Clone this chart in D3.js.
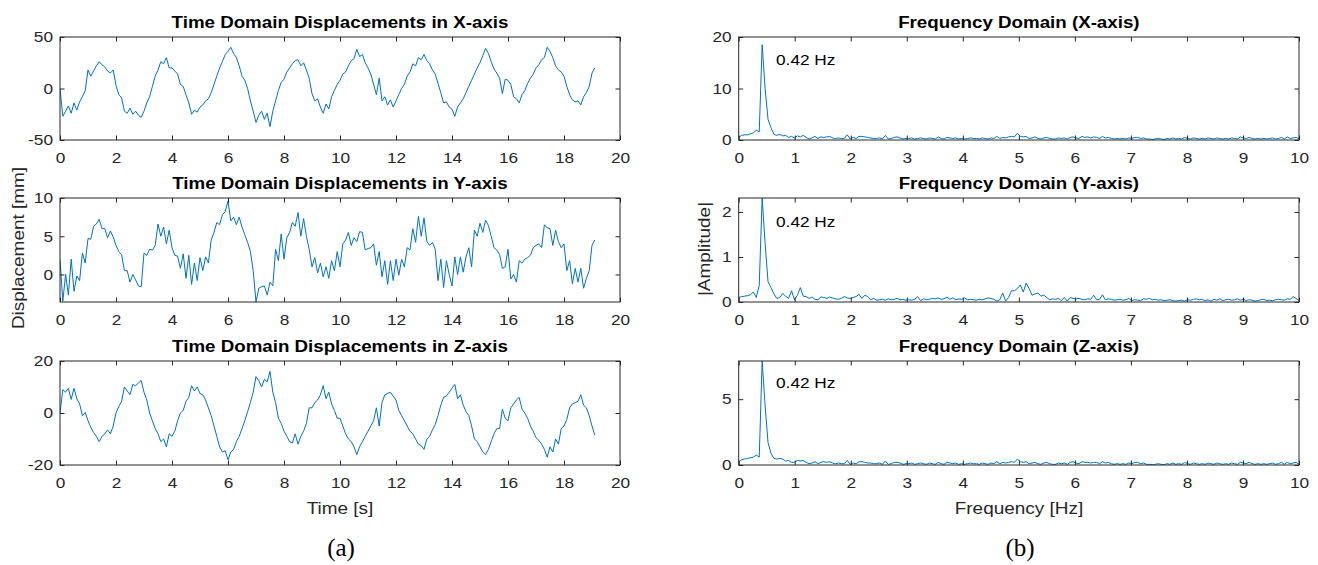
<!DOCTYPE html>
<html>
<head>
<meta charset="utf-8">
<script src="https://cdn.jsdelivr.net/npm/d3@7"></script>
<style>
  body { margin: 0; background: #fff; }
  svg { display: block; }
  text { font-family: "Liberation Sans", Arial, Helvetica, sans-serif; fill: #262626; }
</style>
</head>
<body>
<div id="chart"></div>
<script>
// sampling grids (seconds / hertz)
const TIME_STEP = 0.1
const FREQ_STEP = 10 / 191

// displacement in X [mm], one value per 0.1 s
const dispX = [
  0, -27, -22, -17, -24, -14, -21, -13, -8, -2,
  18, 12, 17, 22, 26, 23, 21, 17, 15, 18,
  3, -6, -9, -22, -24, -19, -25, -22, -26, -28,
  -22, -14, -8, 2, 12, 18, 26, 24, 30, 20,
  20, 17, 14, 4, 2, -6, -14, -25, -21, -23,
  -18, -16, -12, -10, -4, 4, 12, 20, 26, 33,
  36, 40, 34, 30, 22, 12, 8, 0, -12, -22,
  -33, -26, -22, -30, -24, -37, -22, -12, -2, 6,
  9, 16, 20, 24, 27, 28, 22, 25, 18, 10,
  -5, -12, -10, -18, -24, -15, -20, -8, -2, 4,
  8, 14, 16, 22, 27, 29, 38, 31, 33, 25,
  20, 14, 4, -6, 10, -12, -8, -16, -11, -18,
  -12, -6, 0, 4, 12, 16, 24, 22, 30, 28,
  33, 27, 24, 18, 14, 5, -4, -14, -13, -18,
  -20, -27, -18, -14, -10, -4, 2, 8, 14, 20,
  25, 32, 39, 34, 26, 19, 15, 10, -5, 9,
  8, 4, -8, -10, -14, -6, -2, 5, 10, 14,
  20, 23, 28, 30, 40, 36, 30, 22, 18, 16,
  12, 2, -6, -11, -13, -12, -16, -8, -4, 2,
  15, 20
]

// displacement in Y [mm]
const dispY = [
  2.0, -3.5, 0.0, -2.7, 2.0, -2.2, -0.2, -0.8, 2.8, 1.5,
  4.7, 4.6, 6.3, 6.6, 7.2, 6.0, 6.0, 4.8, 5.7, 4.9,
  3.8, 3.0, 2.6, 0.5, 0.5, -1.0, 0.0, -0.7, -1.5, -1.6,
  2.8, 2.5, 3.3, 3.2, 3.8, 6.6, 5.0, 6.2, 4.0, 5.8,
  3.5, 2.5, 2.4, 0.8, 2.7, -0.5, 2.5, -1.3, 1.5, -0.8,
  2.2, 0.5, 2.3, 1.5, 4.5, 5.5, 6.8, 6.5, 7.8, 8.2,
  9.6, 7.0, 7.5, 6.5, 7.5, 6.2, 5.2, 4.2, 3.0, 0.5,
  -3.6, -1.8, -1.6, -1.5, -2.7, -1.0, -1.5, 3.3, 1.8, 5.3,
  2.0, 4.8, 5.5, 6.8, 6.3, 8.1, 5.0, 7.3, 5.0, 3.3,
  1.0, 2.2, 0.2, 1.5, -0.3, 1.0, -0.5, 1.8, 0.5, 3.0,
  1.0, 4.0, 4.5, 5.5, 3.8, 4.8, 4.3, 5.6, 5.5, 3.2,
  3.4, 3.5, 4.0, 1.2, 3.0, -0.3, 1.8, -1.3, 1.8, -0.8,
  2.0, -0.1, 2.0, 1.0, 3.5, 3.2, 6.0, 4.2, 7.6, 5.0,
  7.4, 4.3, 3.8, 4.2, 3.3, -0.8, 2.0, -1.7, 1.8, 0.0,
  -1.5, 2.3, 0.0, 2.3, 0.3, 2.3, 3.5, 1.0, 5.8, 5.0,
  6.7, 5.5, 7.1, 6.4, 5.0, 3.5, 3.2, 2.6, 0.8, 1.0,
  3.3, -0.6, 0.0, -1.0, 1.8, 1.5, 2.0, 2.2, 2.5, 3.5,
  3.8, 4.0, 3.5, 6.5, 6.1, 6.0, 3.8, 5.8, 4.3, 3.5,
  4.0, 0.5, 1.8, -1.2, 0.8, -1.0, 0.8, -1.8, -0.5, 0.5,
  3.8, 4.5
]

// displacement in Z [mm]
const dispZ = [
  0, 9, 8, 9.5, 5.2, 9.5, 5.5, 3.5, -1, 0.2,
  -3, -5.5, -7.5, -9, -11, -9, -8, -6.5, -8, -5,
  0, 2.5, 4.5, 10, 8.5, 7, 11, 10.5, 11.5, 12.5,
  8, 5, 0, -3, -6, -8, -11, -10, -13, -8,
  -9, -7, -3, 0, 1, 4.5, 6, 10.5, 8.5, 10,
  7.5, 7, 5, 2, -1, -5, -9, -13, -15, -14.5,
  -18, -15, -14, -11, -9, -6, -3, 0.5, 4, 8,
  14, 12.5, 10, 13, 12, 16, 8, 4, -2, -4,
  -7, -9, -11, -11.5, -8, -12, -9, -7, -4, 2,
  2, 4, 5, 7, 10.5, 5.5, 8, 3.5, 1, -2,
  -2, -5, -8, -10, -11, -13, -16, -13, -11, -9,
  -7, -5, -3, 2, -5, 4, 7, 7.5, 8, 6.5,
  5, 1, -1, -3, -5, -7, -8, -10, -12, -12.5,
  -14, -10, -9, -6.5, -4.5, -1, 3, 6, 6.5, 8,
  9.5, 11, 5.5, 7, 3, 0.5, -1, -5, -10, -11,
  -13, -15, -16, -14, -11, -8, -6, -6, 1.5, -2,
  -3, 2, 3.5, 5, 6, 1.5, 0, -2, -5, -7,
  -9.5, -10.5, -12, -14, -17, -13, -15, -10, -12, -6,
  -5, -2.5, 2, 3.5, 4, 4.5, 7, 3, 2, -1,
  -5, -8.5
]

// |amplitude| spectra, one value per frequency bin
const ampX = [
  0.5, 0.9, 1.0, 1.0, 1.2, 1.4, 1.9, 1.6, 18.5, 10.0,
  4.0, 2.4, 1.1, 0.9, 1.1, 0.8, 0.9, 0.5, 0.7, 0.4,
  0.8, 0.6, 0.9, 0.5, 0.2, 0.4, 0.7, 0.3, 0.6, 0.5,
  0.6, 0.7, 0.4, 0.3, 0.4, 0.3, 0.3, 1.0, 0.2, 0.5,
  0.3, 0.7, 0.7, 0.6, 0.5, 0.4, 0.3, 0.3, 0.4, 0.2,
  0.9, 0.2, 0.3, 0.5, 0.6, 0.4, 0.2, 0.3, 0.3, 0.4,
  0.2, 0.3, 0.4, 0.3, 0.2, 0.4, 0.3, 0.2, 0.6, 0.3,
  0.2, 0.5, 0.4, 0.3, 0.4, 0.2, 0.3, 0.2, 0.3, 0.4,
  0.3, 0.3, 0.2, 0.4, 0.3, 0.2, 0.4, 0.3, 0.7, 0.3,
  0.5, 0.4, 0.6, 0.7, 0.6, 1.3, 0.7, 0.6, 0.7, 0.3,
  0.4, 0.6, 0.3, 0.2, 0.4, 0.5, 0.3, 0.2, 0.2, 0.4,
  0.3, 0.4, 0.2, 0.5, 0.6, 0.4, 0.3, 0.7, 0.5, 0.6,
  0.4, 0.6, 0.5, 0.3, 0.7, 0.4, 0.5, 0.3, 0.2, 0.3,
  0.2, 0.3, 0.2, 0.4, 0.3, 0.5, 0.5, 0.3, 0.4, 0.2,
  0.2, 0.1, 0.2, 0.3, 0.2, 0.1, 0.3, 0.2, 0.4, 0.2,
  0.3, 0.2, 0.5, 0.3, 0.2, 0.4, 0.3, 0.2, 0.3, 0.2,
  0.4, 0.3, 0.2, 0.4, 0.3, 0.2, 0.3, 0.2, 0.4, 0.3,
  0.2, 0.6, 0.4, 0.3, 0.5, 0.3, 0.2, 0.3, 0.2, 0.3,
  0.2, 0.3, 0.4, 0.2, 0.3, 0.5, 0.2, 0.6, 0.3, 0.4,
  0.5, 0.2
]

const ampY = [
  0.10, 0.12, 0.13, 0.14, 0.16, 0.22, 0.10, 0.37, 2.31, 1.30,
  0.45, 0.32, 0.18, 0.08, 0.10, 0.19, 0.13, 0.08, 0.25, 0.05,
  0.15, 0.32, 0.13, 0.12, 0.08, 0.11, 0.06, 0.05, 0.11, 0.10,
  0.08, 0.11, 0.09, 0.07, 0.06, 0.08, 0.12, 0.09, 0.08, 0.10,
  0.12, 0.17, 0.08, 0.15, 0.12, 0.05, 0.08, 0.04, 0.05, 0.06,
  0.04, 0.07, 0.05, 0.06, 0.08, 0.05, 0.06, 0.04, 0.05, 0.04,
  0.06, 0.12, 0.03, 0.07, 0.05, 0.06, 0.08, 0.07, 0.09, 0.06,
  0.07, 0.11, 0.06, 0.09, 0.05, 0.07, 0.06, 0.09, 0.05, 0.06,
  0.05, 0.04, 0.06, 0.05, 0.07, 0.09, 0.08, 0.06, 0.02, 0.05,
  0.20, 0.02, 0.10, 0.25, 0.25, 0.30, 0.38, 0.22, 0.42, 0.30,
  0.15, 0.18, 0.20, 0.13, 0.15, 0.10, 0.05, 0.07, 0.06, 0.08,
  0.03, 0.10, 0.02, 0.10, 0.08, 0.07, 0.08, 0.06, 0.05, 0.07,
  0.06, 0.15, 0.05, 0.06, 0.16, 0.05, 0.07, 0.06, 0.04, 0.05,
  0.06, 0.04, 0.05, 0.08, 0.03, 0.05, 0.04, 0.03, 0.07, 0.06,
  0.08, 0.05, 0.06, 0.04, 0.05, 0.03, 0.04, 0.05, 0.03, 0.02,
  0.03, 0.04, 0.02, 0.05, 0.04, 0.06, 0.07, 0.05, 0.06, 0.03,
  0.05, 0.02, 0.06, 0.04, 0.07, 0.03, 0.05, 0.06, 0.04, 0.05,
  0.07, 0.04, 0.06, 0.03, 0.05, 0.04, 0.02, 0.03, 0.05, 0.06,
  0.03, 0.04, 0.03, 0.05, 0.06, 0.05, 0.04, 0.07, 0.06, 0.12,
  0.08, 0.03
]

const ampZ = [
  0.2, 0.4, 0.45, 0.5, 0.55, 0.6, 0.75, 0.6, 7.9, 4.5,
  1.7, 0.9, 0.5, 0.45, 0.5, 0.45, 0.3, 0.35, 0.2, 0.2,
  0.35, 0.3, 0.35, 0.2, 0.1, 0.15, 0.25, 0.1, 0.2, 0.25,
  0.2, 0.25, 0.15, 0.1, 0.15, 0.1, 0.1, 0.35, 0.05, 0.15,
  0.1, 0.25, 0.25, 0.2, 0.15, 0.15, 0.1, 0.1, 0.15, 0.05,
  0.3, 0.05, 0.1, 0.2, 0.2, 0.15, 0.05, 0.1, 0.1, 0.15,
  0.05, 0.1, 0.15, 0.1, 0.05, 0.15, 0.1, 0.05, 0.2, 0.1,
  0.05, 0.2, 0.15, 0.1, 0.15, 0.05, 0.1, 0.05, 0.1, 0.15,
  0.1, 0.1, 0.05, 0.15, 0.1, 0.05, 0.15, 0.1, 0.25, 0.1,
  0.2, 0.15, 0.2, 0.25, 0.2, 0.45, 0.25, 0.2, 0.25, 0.1,
  0.15, 0.2, 0.1, 0.05, 0.15, 0.2, 0.1, 0.05, 0.05, 0.15,
  0.1, 0.15, 0.05, 0.2, 0.25, 0.15, 0.1, 0.25, 0.2, 0.2,
  0.15, 0.2, 0.2, 0.1, 0.25, 0.15, 0.2, 0.1, 0.05, 0.1,
  0.05, 0.1, 0.05, 0.15, 0.1, 0.2, 0.2, 0.1, 0.15, 0.05,
  0.05, 0.02, 0.05, 0.1, 0.05, 0.02, 0.1, 0.05, 0.15, 0.05,
  0.1, 0.05, 0.2, 0.1, 0.05, 0.15, 0.1, 0.05, 0.1, 0.05,
  0.15, 0.1, 0.05, 0.15, 0.1, 0.05, 0.1, 0.05, 0.15, 0.1,
  0.05, 0.2, 0.15, 0.1, 0.2, 0.1, 0.05, 0.1, 0.05, 0.1,
  0.05, 0.1, 0.15, 0.05, 0.1, 0.2, 0.05, 0.2, 0.1, 0.15,
  0.2, 0.05
]

const timeTicks = [0, 2, 4, 6, 8, 10, 12, 14, 16, 18, 20]
const freqTicks = [0, 1, 2, 3, 4, 5, 6, 7, 8, 9, 10]
const peakLabel = '0.42 Hz'

const LINE_COLOR = '#0072BD'
const AXIS_COLOR = '#262626'
// the figure's sans font is wider than Liberation Sans, so stretch glyphs along the text
const STRETCH = 1.15

const svg = d3.select('#chart').append('svg')
  .attr('width', 1318)
  .attr('height', 565)

// column / row placement of the six axes
const COLS = { time: [60, 620], freq: [738.7, 1299] }
const ROWS = [[37, 140], [198, 302], [361, 465]]

function label(x, y, str, size, opts = {}) {
  return svg.append('text')
    .attr('transform', 'translate(' + x + ',' + y + ')' + (opts.rotate ? ' rotate(-90)' : '') + ' scale(' + STRETCH + ',1)')
    .attr('text-anchor', opts.anchor || 'middle')
    .style('font-size', size + 'px')
    .style('font-weight', opts.bold ? 'bold' : 'normal')
    .style('fill', opts.fill || AXIS_COLOR)
    .text(str)
}

const panels = [
  { col: 'time', row: 0, title: 'Time Domain Displacements in X-axis', values: dispX, step: TIME_STEP,
    xDomain: [0, 20], xTicks: timeTicks, yDomain: [-50, 50], yTicks: [-50, 0, 50] },
  { col: 'time', row: 1, title: 'Time Domain Displacements in Y-axis', values: dispY, step: TIME_STEP,
    xDomain: [0, 20], xTicks: timeTicks, yDomain: [-3.6, 10], yTicks: [0, 5, 10] },
  { col: 'time', row: 2, title: 'Time Domain Displacements in Z-axis', values: dispZ, step: TIME_STEP,
    xDomain: [0, 20], xTicks: timeTicks, yDomain: [-20, 20], yTicks: [-20, 0, 20] },
  { col: 'freq', row: 0, title: 'Frequency Domain (X-axis)', values: ampX, step: FREQ_STEP,
    xDomain: [0, 10], xTicks: freqTicks, yDomain: [0, 20], yTicks: [0, 10, 20], label: [0.666, 14.6] },
  { col: 'freq', row: 1, title: 'Frequency Domain (Y-axis)', values: ampY, step: FREQ_STEP,
    xDomain: [0, 10], xTicks: freqTicks, yDomain: [0, 2.31], yTicks: [0, 1, 2], label: [0.666, 1.67] },
  { col: 'freq', row: 2, title: 'Frequency Domain (Z-axis)', values: ampZ, step: FREQ_STEP,
    xDomain: [0, 10], xTicks: freqTicks, yDomain: [0, 7.9], yTicks: [0, 5], label: [0.666, 5.83] }
]

const TICK = 4.5

panels.forEach((p, k) => {
  const [x0, x1] = COLS[p.col]
  const [top, bottom] = ROWS[p.row]

  const x = d3.scaleLinear().domain(p.xDomain).range([x0, x1])
  const y = d3.scaleLinear().domain(p.yDomain).range([bottom, top])

  const g = svg.append('g')

  //clip so the trace stays inside the box
  g.append('clipPath').attr('id', 'clip' + k)
    .append('rect')
    .attr('x', x0).attr('y', top)
    .attr('width', x1 - x0).attr('height', bottom - top)

  const line = d3.line()
    .x((d, i) => x(i * p.step))
    .y(d => y(d))

  g.append('path')
    .datum(p.values)
    .attr('clip-path', 'url(#clip' + k + ')')
    .attr('fill', 'none')
    .attr('stroke', LINE_COLOR)
    .attr('stroke-width', 1)
    .attr('stroke-linejoin', 'round')
    .attr('d', line)

  // axes, ticks pointing inward on all four sides
  const bottomAxis = g.append('g')
    .attr('transform', 'translate(0,' + bottom + ')')
    .call(d3.axisBottom(x).tickValues(p.xTicks).tickFormat(d => d).tickSize(-TICK).tickPadding(12))
  const leftAxis = g.append('g')
    .attr('transform', 'translate(' + x0 + ',0)')
    .call(d3.axisLeft(y).tickValues(p.yTicks).tickFormat(d => d).tickSize(-TICK).tickPadding(7))
  const topAxis = g.append('g')
    .attr('transform', 'translate(0,' + top + ')')
    .call(d3.axisTop(x).tickValues(p.xTicks).tickSize(-TICK).tickFormat(''))
  const rightAxis = g.append('g')
    .attr('transform', 'translate(' + x1 + ',0)')
    .call(d3.axisRight(y).tickValues(p.yTicks).tickSize(-TICK).tickFormat(''))

  ;[bottomAxis, leftAxis, topAxis, rightAxis].forEach(a => {
    a.select('.domain').remove()
    a.selectAll('line').attr('stroke', AXIS_COLOR)
    a.selectAll('text')
      .attr('fill', AXIS_COLOR)
      .attr('transform', 'scale(' + STRETCH + ',1)')
      .style('font-size', '15px')
      .style('font-family', '"Liberation Sans", Arial, sans-serif')
  })
  leftAxis.selectAll('text').attr('x', -7 / STRETCH)

  g.append('rect')
    .attr('x', x0).attr('y', top)
    .attr('width', x1 - x0).attr('height', bottom - top)
    .attr('fill', 'none')
    .attr('stroke', AXIS_COLOR)
    .attr('stroke-width', 1)

  label((x0 + x1) / 2, top - 9.5, p.title, 16.3, { bold: true, fill: '#000' })

  if (p.label) {
    label(x(p.label[0]), y(p.label[1]), peakLabel, 15, { anchor: 'start', fill: '#000' })
  }
})

// shared axis labels
label(23.5, 248, 'Displacement [mm]', 16.5, { rotate: true })
label(710, 249, '|Amplitude|', 16.5, { rotate: true })
label(340, 514, 'Time [s]', 16.5)
label(1019, 514, 'Frequency [Hz]', 16.5)

// sub-figure captions
svg.append('text')
  .attr('x', 341).attr('y', 556)
  .attr('text-anchor', 'middle')
  .style('font-family', '"Liberation Serif", "DejaVu Serif", serif')
  .style('font-size', '25px')
  .style('fill', '#000')
  .text('(a)')

svg.append('text')
  .attr('x', 1020).attr('y', 556)
  .attr('text-anchor', 'middle')
  .style('font-family', '"Liberation Serif", "DejaVu Serif", serif')
  .style('font-size', '25px')
  .style('fill', '#000')
  .text('(b)')
</script>
</body>
</html>
